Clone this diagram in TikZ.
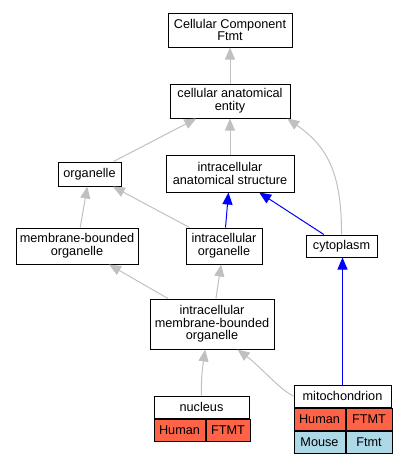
\documentclass[tikz,border=0pt]{standalone}
\usepackage{fontspec}
\setmainfont{Liberation Sans}
\usetikzlibrary{arrows.meta}
\definecolor{human}{RGB}{255,99,71}
\definecolor{mouse}{RGB}{173,216,230}
\definecolor{isagray}{RGB}{192,192,192}

\begin{document}
\begin{tikzpicture}[x=1pt, y=-1pt,
	term/.style={draw=black, line width=1pt, fill=white, inner sep=0pt,
		align=center, font=\fontsize{12.7}{12.7}\selectfont},
	cell/.style={term, anchor=north west, minimum height=22pt},
	isa/.style={color=isagray, line width=1pt,
		-{Triangle[length=12pt, width=10pt]}},
	partof/.style={isa, color=blue}]
	\useasboundingbox (0,0) rectangle (407,461);

	% Begriffe
	\node[term, minimum width=124pt, minimum height=34pt] (ccf) at (230,30) {Cellular Component\\Ftmt};
	\node[term, minimum width=120pt, minimum height=34pt] (cae) at (230,101) {cellular anatomical\\entity};
	\node[term, minimum width=63pt, minimum height=24pt] (org) at (89.5,174) {organelle};
	\node[term, minimum width=128pt, minimum height=37pt] (ias) at (230,173.5) {intracellular\\anatomical structure};
	\node[term, minimum width=122pt, minimum height=36pt] (mbo) at (77,246) {membrane-bounded\\organelle};
	\node[term, minimum width=76pt, minimum height=36pt] (io) at (224,246) {intracellular\\organelle};
	\node[term, minimum width=71pt, minimum height=22pt] (cyt) at (341.5,246) {cytoplasm};
	\node[term, minimum width=124pt, minimum height=50pt] (imbo) at (212,324) {intracellular\\membrane-bounded\\organelle};

	% Tabellen mit Arten
	\node[term, minimum width=95pt, minimum height=22pt] (nuc) at (201.5,407) {nucleus};
	\node[cell, fill=human, minimum width=51pt] (nucH) at (nuc.south west) {Human};
	\node[cell, fill=human, minimum width=44pt] (nucF) at (nucH.north east) {FTMT};

	\node[term, minimum width=97pt, minimum height=22pt] (mito) at (342.5,396) {mitochondrion};
	\node[cell, fill=human, minimum width=51pt] (mitoH) at (mito.south west) {Human};
	\node[cell, fill=human, minimum width=46pt] (mitoF) at (mitoH.north east) {FTMT};
	\node[cell, fill=mouse, minimum width=51pt] (mitoM) at (mitoH.south west) {Mouse};
	\node[cell, fill=mouse, minimum width=46pt] (mitoFm) at (mitoM.north east) {Ftmt};

	% Kanten
	\draw[isa] (cae) -- (ccf);
	\draw[isa] (org) -- (cae);
	\draw[isa] (ias) -- (cae);
	\draw[isa] (cyt.north) .. controls (342,170) and (325,145) .. (cae.-17);
	\draw[isa] (mbo) -- (org);
	\draw[isa] (io) -- (org);
	\draw[partof] (io) -- (ias);
	\draw[partof] (cyt) -- (ias);
	\draw[partof] (mito.north) -- (mito.north |- cyt.south);
	\draw[isa] (imbo) -- (mbo);
	\draw[isa] (imbo) -- (io);
	\draw[isa] (nuc.north) .. controls (201,375) and (203,365) .. (imbo.-105);
	\draw[isa] (mito.west) .. controls (280,390) and (262,368) .. (imbo.-45);
\end{tikzpicture}
\end{document}
